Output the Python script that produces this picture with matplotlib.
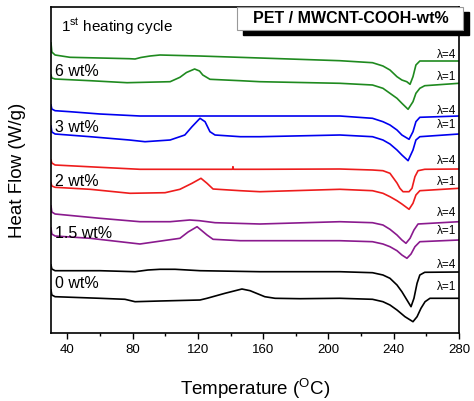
import matplotlib
matplotlib.use("Agg")
from matplotlib import pyplot as plt
from matplotlib.patches import Rectangle

# heat flow traces, arbitrary units (vertically shifted), lambda = 4 and lambda = 1
temp_6wt_l4 = [30, 30.5, 32.5, 41.6, 60, 78, 81.5, 85, 90.7, 96.8, 121, 158, 207, 227, 233.4, 237.7, 242, 245, 248, 250, 251.8, 253.6, 256, 280]
hf_6wt_l4 = [290, 281, 278, 275.7, 275, 274.3, 274, 275.5, 277, 278, 277, 275, 272.3, 270.3, 267, 263, 256.3, 253, 251.3, 248.7, 256.3, 268, 272, 272]
temp_6wt_l1 = [30, 30.5, 32.5, 54, 76.6, 103, 109, 113, 118, 121, 123, 127.4, 146, 158, 207, 227, 233.4, 237.7, 242, 245, 248.8, 251.8, 253.6, 256, 259, 280]
hf_6wt_l1 = [258, 255, 254, 252.3, 250.3, 251.3, 255.7, 260.5, 264, 262, 258, 253.7, 252.3, 251.3, 249.7, 248, 244.7, 239.7, 234.7, 229.7, 223.7, 231.3, 239.7, 244.7, 247.3, 249.7]

temp_3wt_l4 = [30, 30.5, 32.5, 41.6, 60, 84.5, 109, 158, 207, 227, 233.4, 237.7, 242, 245, 249.4, 251.8, 253.6, 256, 280]
hf_3wt_l4 = [228, 224, 222.3, 221.3, 219, 217, 217, 217, 217, 214.7, 211.3, 208, 203, 198, 193.7, 201.3, 211.3, 215.7, 217]
temp_3wt_l1 = [30, 30.5, 32.5, 54, 78, 87.6, 103, 112, 116.4, 121.3, 124.4, 127.4, 130.5, 146, 158, 207, 227, 233.4, 237.7, 242, 245, 248.8, 251.8, 253.6, 256, 280]
hf_3wt_l1 = [207, 201, 199, 196.3, 193, 191.3, 193, 198, 206.3, 214.7, 211.3, 201.3, 198, 196.3, 196.3, 198, 196.3, 193, 189, 183, 178, 172.3, 183, 193, 196.3, 199]

temp_2wt_l4 = [30, 30.5, 32.5, 60, 84.5, 121, 141.2, 141.5, 141.8, 158, 207, 227, 233.4, 237.7, 242, 243.8, 245.7, 249.4, 251.2, 253, 254.9, 259, 280]
hf_2wt_l4 = [173, 170, 168, 165.7, 163.7, 163.7, 163.7, 166.3, 163.7, 163.7, 164, 163, 162.3, 159.7, 150, 144.7, 141.3, 141.3, 144.7, 156.3, 162.3, 163.7, 164]
temp_2wt_l1 = [30, 30.5, 32.5, 54, 78.4, 99.9, 109, 116.4, 121.9, 125.6, 129.3, 146, 158, 207, 227, 233.4, 237.7, 242, 245, 249.4, 251.8, 253.6, 256, 280]
hf_2wt_l1 = [150, 147, 145.7, 143.7, 139.7, 140.3, 143.7, 149.7, 154.7, 149.7, 144, 142.3, 141.3, 143.7, 142.3, 139.7, 136.3, 132.3, 129, 123.7, 129.7, 138, 142.3, 144.7]

temp_15wt_l4 = [30, 30.5, 32.5, 60, 84.5, 103, 115, 121, 130.5, 158, 207, 227, 233.4, 237.7, 242, 245, 247.5, 250, 252.4, 254.9, 280]
hf_15wt_l4 = [127, 121, 119, 114.7, 111.3, 111.3, 113, 112.3, 110.3, 109, 111.3, 110.3, 108, 103.7, 98, 93, 89.7, 94.7, 103, 109, 111.3]
temp_15wt_l1 = [30, 30.5, 32.5, 54, 84.5, 109, 114, 119.5, 125.6, 129.3, 146, 158, 207, 227, 233.4, 237.7, 242, 245, 248.1, 250.6, 253, 256, 280]
hf_15wt_l1 = [105, 99, 97, 94.7, 89, 94.7, 101, 106.3, 98, 93.7, 92.3, 92.3, 92.3, 91.3, 89, 86.3, 82.3, 78, 74.7, 79, 86.3, 91.3, 93]

temp_0wt_l4 = [30, 30.5, 32.5, 60, 81.5, 89.4, 96.8, 106, 121.3, 158, 207, 227, 233.4, 237.7, 242, 245, 248.1, 250.6, 252.4, 254.3, 256, 259, 280]
hf_0wt_l4 = [68, 64, 62.3, 62.3, 61.3, 63, 63.7, 63.7, 62.3, 61.3, 61.3, 60.3, 58, 54.7, 48, 41.3, 33, 26.3, 34.7, 49.7, 58, 60.7, 61]
temp_0wt_l1 = [30, 30.5, 32.5, 60, 75.3, 81.5, 96.8, 121.3, 125.6, 136.6, 147, 152, 161, 167.3, 182.6, 207, 227, 233.4, 237.7, 242, 246.9, 251.8, 254.3, 256.7, 259.2, 262.2, 280]
hf_0wt_l1 = [43, 38, 36.3, 34.7, 33.7, 31.3, 32, 33, 34.7, 39.7, 44, 42.3, 36.3, 34.7, 34.3, 34.7, 33.7, 31.3, 28, 23, 16.3, 11.3, 16.3, 24.7, 31.3, 34.7, 34.7]

sample_labels = ["6 wt%", "3 wt%", "2 wt%", "1.5 wt%", "0 wt%"]
sample_colors = ["#1f8a1f", "#0000f0", "#ee1c1c", "#8a1a8e", "#000000"]
sample_label_hf = [261, 205, 151, 99, 49]
lambda4_label_hf = [278, 222.3, 172.3, 120.3, 68]
lambda1_label_hf = [256.3, 208, 151.3, 102.3, 45.7]

curves = [
    (temp_6wt_l4, hf_6wt_l4, temp_6wt_l1, hf_6wt_l1),
    (temp_3wt_l4, hf_3wt_l4, temp_3wt_l1, hf_3wt_l1),
    (temp_2wt_l4, hf_2wt_l4, temp_2wt_l1, hf_2wt_l1),
    (temp_15wt_l4, hf_15wt_l4, temp_15wt_l1, hf_15wt_l1),
    (temp_0wt_l4, hf_0wt_l4, temp_0wt_l1, hf_0wt_l1),
]

plt.rcParams['font.family'] = ['Liberation Sans', 'DejaVu Sans']
plt.rcParams['mathtext.default'] = 'regular'

fig = plt.figure(figsize=(4.74, 4.01), dpi=100)
ax = fig.add_axes([51 / 474, 68 / 401, 408 / 474, 326 / 401])

for i, (t4, h4, t1, h1) in enumerate(curves):
    color = sample_colors[i]
    ax.plot(t4, h4, color=color, linewidth=1.2, solid_joinstyle='round')
    ax.plot(t1, h1, color=color, linewidth=1.2, solid_joinstyle='round')
    ax.text(32.5, sample_label_hf[i], sample_labels[i], fontsize=11.5, ha='left', va='center')
    ax.text(278.2, lambda4_label_hf[i], "λ=4", fontsize=8.5, ha='right', va='center')
    ax.text(278.2, lambda1_label_hf[i], "λ=1", fontsize=8.5, ha='right', va='center')

ax.set_xlim(30, 280)
ax.set_ylim(0, 326)
ax.set_xticks(range(40, 281, 40))
ax.set_xticks(range(60, 281, 40), minor=True)
ax.set_yticks([])
ax.tick_params(axis='x', which='major', direction='out', length=4, width=1, labelsize=9.5, pad=4)
ax.tick_params(axis='x', which='minor', direction='out', length=2.5, width=1)
for spine in ax.spines.values():
    spine.set_linewidth(1.2)

ax.set_xlabel("Temperature ($^{O}$C)", fontsize=13.5, labelpad=15)
ax.set_ylabel("Heat Flow (W/g)", fontsize=13.5, labelpad=18)

ax.text(0.024, 0.94, "1$^{st}$ heating cycle", transform=ax.transAxes, fontsize=11, ha='left', va='center')

# title box with drop shadow
fig.patches.append(Rectangle((243 / 474, 1 - 35 / 401), 226 / 474, 23 / 401, transform=fig.transFigure,
                             facecolor='black', edgecolor='black', zorder=5))
fig.patches.append(Rectangle((237 / 474, 1 - 30 / 401), 226 / 474, 23 / 401, transform=fig.transFigure,
                             facecolor='white', edgecolor='#999999', linewidth=0.8, zorder=6))
fig.text(350.5 / 474, 1 - 18.5 / 401, "PET / MWCNT-COOH-wt%", fontsize=11.5, fontweight='bold',
         ha='center', va='center', zorder=7)

fig.savefig("out.png", dpi=100)
plt.clf()
